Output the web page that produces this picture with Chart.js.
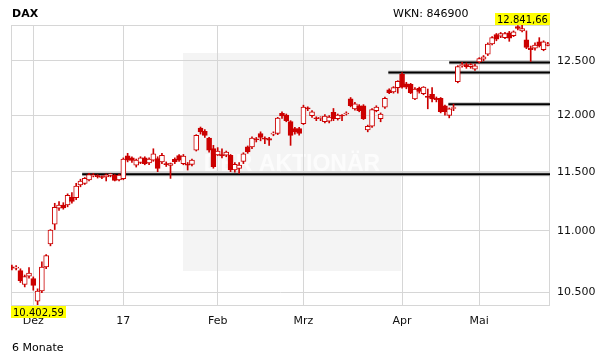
<!DOCTYPE html>
<html>
<head>
<meta charset="utf-8">
<script src="https://cdn.jsdelivr.net/npm/chart.js@4.4.1/dist/chart.umd.min.js"></script>
<style>
html, body { margin: 0; padding: 0; background: #fff; }
#wrap { width: 611px; height: 364px; position: relative; }
</style>
</head>
<body>
<div id="wrap"><canvas id="chart"></canvas></div>
<script>
// Tageskerzen DAX, 24.11.2016 - 24.05.2017 (Index = Handelstag)
const opens = [
  10705, 10695, 10675, 10564, 10630, 10611, 10433, 10514, 10704, 10892,
  11055, 11188, 11215, 11215, 11280, 11278, 11385, 11399, 11428, 11465,
  11465, 11455, 11455, 11470, 11468, 11430, 11440, 11637, 11620, 11557,
  11580, 11620, 11575, 11600, 11614, 11585, 11570, 11555, 11607, 11640,
  11570, 11565, 11563, 11688, 11884, 11855, 11795, 11701, 11646, 11650,
  11643, 11643, 11515, 11528, 11590, 11716, 11716, 11785, 11835, 11792,
  11790, 11830, 11836, 12015, 12000, 11941, 11878, 11878, 11924, 12060,
  11995, 11975, 11970, 11941, 11945, 12025, 11967, 11995, 12010, 12147,
  12057, 12085, 12085, 11867, 11900, 12040, 11967, 12072, 12230, 12212,
  12250, 12375, 12285, 12280, 12147, 12245, 12195, 12170, 12190, 12153,
  12153, 12085, 11997, 12060, 12306, 12455, 12465, 12445, 12423, 12490,
  12516, 12563, 12659, 12750, 12735, 12720, 12767, 12740, 12827, 12785,
  12700, 12620, 12620, 12680, 12605, 12645
];
const highs = [
  10720, 10715, 10690, 10640, 10700, 10625, 10530, 10746, 10805, 11010,
  11230, 11245, 11235, 11310, 11320, 11400, 11435, 11450, 11485, 11485,
  11475, 11465, 11480, 11485, 11475, 11480, 11620, 11660, 11630, 11610,
  11630, 11630, 11620, 11700, 11630, 11660, 11585, 11575, 11620, 11650,
  11650, 11580, 11610, 11825, 11893, 11870, 11800, 11730, 11710, 11700,
  11680, 11650, 11580, 11580, 11665, 11725, 11805, 11800, 11850, 11805,
  11800, 11850, 11980, 12030, 12010, 11950, 11890, 11890, 12090, 12075,
  12040, 11985, 11985, 12005, 11995, 12060, 12010, 12005, 12030, 12160,
  12115, 12095, 12095, 11910, 12060, 12085, 12020, 12165, 12240, 12260,
  12315, 12391, 12300, 12290, 12250, 12255, 12260, 12238, 12250, 12165,
  12160, 12090, 12065, 12099, 12455, 12485, 12480, 12475, 12470, 12530,
  12550, 12670, 12730, 12760, 12770, 12770, 12780, 12785, 12835, 12841.66,
  12785, 12640, 12670, 12720, 12690, 12675
];
const lows = [
  10680, 10680, 10580, 10545, 10615, 10519, 10402.59, 10500, 10690, 10876,
  11010, 11170, 11180, 11200, 11230, 11260, 11370, 11390, 11420, 11455,
  11445, 11440, 11420, 11455, 11420, 11420, 11430, 11585, 11580, 11540,
  11570, 11560, 11560, 11590, 11500, 11570, 11545, 11442, 11570, 11590,
  11560, 11514, 11550, 11680, 11830, 11800, 11670, 11530, 11640, 11620,
  11630, 11500, 11495, 11486, 11570, 11660, 11700, 11760, 11770, 11745,
  11730, 11815, 11825, 11970, 11940, 11730, 11830, 11820, 11915, 12040,
  11980, 11950, 11950, 11930, 11930, 11950, 11955, 11950, 12000, 12075,
  12045, 12030, 11960, 11850, 11890, 12030, 11940, 12060, 12195, 12200,
  12200, 12245, 12240, 12195, 12140, 12200, 12185, 12057, 12120, 12120,
  12020, 12000, 11975, 12040, 12295, 12440, 12430, 12430, 12410, 12480,
  12500, 12550, 12650, 12690, 12720, 12710, 12685, 12730, 12795, 12775,
  12615, 12494, 12600, 12630, 12595, 12640
];
const closes = [
  10695, 10700, 10595, 10627, 10655, 10557, 10512, 10704, 10797, 11005,
  11196, 11215, 11190, 11297, 11246, 11376, 11419, 11442, 11476, 11470,
  11458, 11450, 11472, 11475, 11425, 11470, 11610, 11600, 11597, 11600,
  11620, 11570, 11610, 11655, 11528, 11643, 11560, 11570, 11585, 11600,
  11636, 11557, 11600, 11818, 11849, 11818, 11688, 11543, 11680, 11637,
  11670, 11515, 11563, 11557, 11655, 11673, 11795, 11780, 11800, 11785,
  11775, 11836, 11974, 11992, 11950, 11818, 11849, 11836, 12072, 12057,
  12030, 11967, 11974, 11992, 11983, 11967, 12000, 11992, 12018, 12085,
  12102, 12040, 11967, 11900, 12050, 12072, 12010, 12153, 12205, 12250,
  12310, 12254, 12254, 12204, 12238, 12215, 12255, 12160, 12147, 12140,
  12030, 12030, 12057, 12068, 12447, 12462, 12445, 12465, 12453, 12522,
  12538, 12659, 12721, 12706, 12760, 12760, 12715, 12775, 12808, 12808,
  12627, 12605, 12650, 12640, 12680, 12660
];

// Monatsanfänge auf der Zeitachse
const monthTicks = [5, 26, 48, 68, 91, 109];
const monthLabels = ['Dez', '17', 'Feb', 'Mrz', 'Apr', 'Mai'];
const yTicks = [10500, 11000, 11500, 12000, 12500];

// Unterstützungs- / Widerstandslinien
const levels = [11478, 12391, 12099, 12485];
const levelFrom = [16.4, 87.8, 101.8, 102];

const red = '#cc0000';
const gridColor = '#d6d6d6';
const fontFamily = "'DejaVu Sans', Verdana, sans-serif";
const lastX = 125.5;

// 12500 -> "12.500", 12841.66 -> "12.841,66"
const fmtInt = v => String(Math.round(v)).replace(/\B(?=(\d{3})+(?!\d))/g, '.');
const fmtDec = v => {
  const parts = v.toFixed(2).split('.');
  return fmtInt(Number(parts[0])) + ',' + parts[1];
};

const yMin = Math.min(...lows);
const yMax = Math.max(...highs);

const levelLines = [];
levels.forEach((v, k) => {
  levelLines.push({
    type: 'line',
    data: [{x: levelFrom[k], y: v}, {x: lastX, y: v}],
    borderColor: '#c4c4c4', borderWidth: 4, pointRadius: 0, order: 3
  });
  levelLines.push({
    type: 'line',
    data: [{x: levelFrom[k], y: v}, {x: lastX, y: v}],
    borderColor: '#000', borderWidth: 2, pointRadius: 0, order: 2
  });
});

const decoPlugin = {
  id: 'deco',
  beforeDraw(chart) {
    const ctx = chart.ctx;
    ctx.save();
    ctx.fillStyle = '#fff';
    ctx.fillRect(0, 0, chart.width, chart.height);
    // Wasserzeichen
    ctx.fillStyle = '#f4f4f4';
    ctx.fillRect(183, 53, 218, 218);
    ctx.fillStyle = '#fcfcfc';
    ctx.font = "bold 23px 'Liberation Sans', Arial, sans-serif";
    ctx.textAlign = 'center';
    ctx.textBaseline = 'alphabetic';
    ctx.fillText('DER AKTIONÄR', 292, 171);
    ctx.restore();
  },
  beforeDatasetsDraw(chart) {
    const ctx = chart.ctx;
    const a = chart.chartArea;
    ctx.save();
    ctx.strokeStyle = gridColor;
    ctx.lineWidth = 1;
    ctx.strokeRect(Math.round(a.left) + 0.5, Math.round(a.top) + 0.5,
      Math.round(a.right - a.left) - 1, Math.round(a.bottom - a.top));
    ctx.restore();
  },
  afterDraw(chart) {
    const ctx = chart.ctx;
    const a = chart.chartArea;
    const xs = chart.scales.x;
    ctx.save();
    ctx.fillStyle = '#000';
    ctx.textBaseline = 'alphabetic';
    ctx.textAlign = 'left';
    ctx.font = 'bold 11px ' + fontFamily;
    ctx.fillText('DAX', 12, 17);
    ctx.font = '11px ' + fontFamily;
    ctx.fillText('WKN: 846900', 393, 17);
    ctx.fillText('6 Monate', 12, 351);

    // Hoch / Tief markieren
    ctx.font = '10px ' + fontFamily;
    const iMax = highs.indexOf(yMax);
    const iMin = lows.indexOf(yMin);
    const drawTag = (txt, cx, top) => {
      const w = ctx.measureText(txt).width + 4;
      const x0 = Math.round(cx - w / 2);
      ctx.fillStyle = '#ffff00';
      ctx.fillRect(x0, top, Math.round(w), 12);
      ctx.fillStyle = '#000';
      ctx.fillText(txt, x0 + 2, top + 10);
    };
    drawTag(fmtDec(yMax), xs.getPixelForValue(iMax), a.top - 12);
    drawTag(fmtDec(yMin), Math.max(xs.getPixelForValue(iMin), a.left + 27), a.bottom + 1);
    ctx.restore();
  }
};

new Chart(document.getElementById('chart'), {
  type: 'bar',
  data: {
    datasets: [
      {
        // Kerzenkörper
        data: opens.map((o, i) => ({x: i, y: [o, closes[i]]})),
        backgroundColor: c => closes[c.dataIndex] >= opens[c.dataIndex] ? '#ffffff' : red,
        borderColor: red,
        borderWidth: 1,
        borderSkipped: false,
        barThickness: 5,
        minBarLength: 1,
        grouped: false,
        order: 0
      },
      {
        // Dochte
        data: lows.map((l, i) => ({x: i, y: [l, highs[i]]})),
        backgroundColor: red,
        borderWidth: 0,
        barThickness: 1,
        grouped: false,
        order: 1
      },
      ...levelLines
    ]
  },
  options: {
    responsive: true,
    maintainAspectRatio: false,
    animation: false,
    layout: { padding: { left: 11, top: 25, right: 0, bottom: 0 } },
    plugins: { legend: { display: false }, tooltip: { enabled: false } },
    scales: {
      x: {
        type: 'linear',
        min: -0.2,
        max: lastX,
        offset: false,
        grid: { color: gridColor, drawTicks: false, offset: false },
        border: { display: false },
        ticks: {
          autoSkip: false,
          maxRotation: 0,
          padding: 10,
          color: '#111',
          font: { family: fontFamily, size: 11 },
          callback: v => {
            const k = monthTicks.indexOf(v);
            return k >= 0 ? monthLabels[k] : '';
          }
        },
        afterBuildTicks: s => { s.ticks = monthTicks.map(v => ({value: v})); },
        afterFit: s => { s.height = 59; }
      },
      y: {
        type: 'logarithmic',
        position: 'right',
        min: yMin,
        max: yMax,
        grid: { color: gridColor, drawTicks: false },
        border: { display: false },
        ticks: {
          padding: 7,
          color: '#111',
          font: { family: fontFamily, size: 11 },
          callback: v => fmtInt(v)
        },
        afterBuildTicks: s => { s.ticks = yTicks.map(v => ({value: v})); },
        afterFit: s => { s.width = 61; }
      }
    }
  },
  plugins: [decoPlugin]
});
</script>
</body>
</html>
